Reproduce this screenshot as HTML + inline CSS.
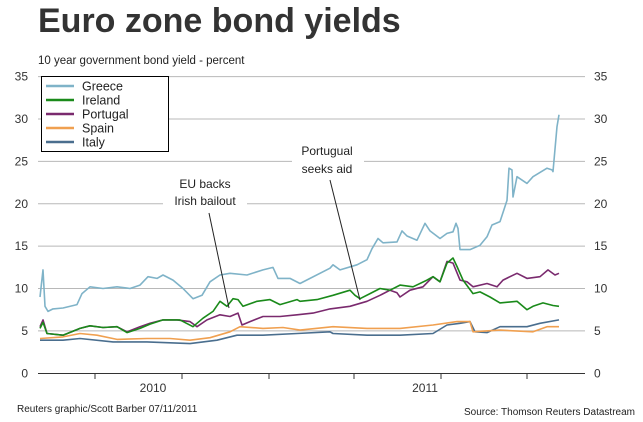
<!DOCTYPE html>
<html><head><meta charset="utf-8"><style>
body{margin:0;background:#fff;}
svg{display:block;font-family:"Liberation Sans",Arial,sans-serif;}
</style></head><body>
<svg id="chart" width="643" height="422" viewBox="0 0 643 422">
<text x="38" y="32" font-size="34" font-weight="bold" fill="#333">Euro zone bond yields</text>
<text x="38" y="64" font-size="11.5" fill="#222">10 year government bond yield - percent</text>
<g id="grid"></g>
<g id="series"></g>
<g>
<line x1="209" y1="213" x2="229" y2="308" stroke="#222" stroke-width="1"/>
<rect x="163" y="172" width="84" height="36" fill="#fff"/>
<text x="205" y="188" font-size="12" text-anchor="middle" fill="#222">EU backs</text>
<text x="205" y="205" font-size="12" text-anchor="middle" fill="#222">Irish bailout</text>
</g>
<g>
<line x1="330" y1="180" x2="360" y2="300" stroke="#222" stroke-width="1"/>
<rect x="292" y="142" width="72" height="36" fill="#fff"/>
<text x="327" y="155" font-size="12" text-anchor="middle" fill="#222">Portugual</text>
<text x="327" y="173" font-size="12" text-anchor="middle" fill="#222">seeks aid</text>
</g>
<g id="legend"></g>
<text x="17" y="412" font-size="10" fill="#222">Reuters graphic/Scott Barber 07/11/2011</text>
<text x="635" y="415" font-size="10" fill="#222" text-anchor="end">Source: Thomson Reuters Datastream</text>
</svg>
<script>
const yTicks=[0,5,10,15,20,25,30,35];
const xTickDays=[57,144,231,316,403,489];
const yearLabels=["2010","2011"];
const yearDays=[115,387];
const seriesNames=["Greece","Ireland","Portugal","Spain","Italy"];
const seriesColors=["#7fb3c8","#1a8a1a","#7a2a6e","#f0a050","#4a6e8e"];
const greece=[[2,9.0],[5,12.2],[7,7.9],[10,7.3],[15,7.6],[25,7.7],[39,8.1],[44,9.4],[52,10.2],[65,10.0],[79,10.2],[92,10.0],[102,10.4],[110,11.4],[119,11.2],[125,11.6],[135,11.0],[145,10.0],[155,8.8],[164,9.2],[172,10.8],[182,11.6],[192,11.8],[209,11.6],[225,12.2],[235,12.5],[240,11.2],[252,11.2],[262,10.6],[292,12.4],[295,12.8],[302,12.2],[319,12.8],[329,13.4],[334,14.7],[340,15.9],[345,15.4],[359,15.5],[364,16.8],[369,16.2],[379,15.7],[387,17.7],[392,16.8],[402,15.9],[409,16.5],[415,16.7],[418,17.7],[420,17.1],[422,14.6],[432,14.6],[442,15.1],[449,16.1],[454,17.5],[462,17.9],[469,20.4],[471,24.2],[474,24.0],[475,20.8],[479,23.2],[489,22.4],[495,23.2],[509,24.2],[514,24.0],[515,23.8],[519,29.1],[521,30.5]];
const ireland=[[2,5.3],[5,6.0],[9,4.7],[25,4.5],[42,5.3],[52,5.6],[65,5.4],[79,5.5],[89,4.8],[102,5.3],[112,5.8],[125,6.3],[142,6.3],[155,5.5],[165,6.5],[175,7.3],[182,8.5],[189,7.9],[195,8.8],[200,8.7],[205,7.9],[219,8.5],[232,8.7],[242,8.1],[259,8.7],[262,8.5],[279,8.7],[295,9.2],[312,9.8],[317,9.2],[322,8.8],[332,9.4],[342,10.0],[352,9.8],[362,10.4],[375,10.2],[389,11.0],[395,11.4],[402,10.8],[409,13.0],[415,13.6],[419,12.6],[425,11.0],[435,9.4],[442,9.6],[452,9.0],[462,8.3],[479,8.5],[489,7.5],[495,7.9],[505,8.3],[515,8.0],[521,7.9]];
const portugal=[[2,5.5],[5,6.3],[9,4.7],[25,4.5],[42,5.3],[52,5.6],[65,5.4],[79,5.5],[89,4.9],[102,5.5],[112,5.9],[125,6.3],[139,6.3],[152,6.1],[159,5.5],[169,6.3],[182,6.9],[192,6.7],[200,7.1],[204,5.7],[212,6.1],[225,6.7],[242,6.7],[259,6.9],[275,7.1],[292,7.6],[312,7.9],[329,8.5],[342,9.2],[352,9.8],[359,9.5],[362,9.0],[372,9.8],[385,10.2],[395,11.4],[402,10.8],[409,13.2],[415,13.0],[422,11.0],[429,10.8],[435,10.2],[449,10.6],[459,10.2],[465,11.0],[479,11.8],[489,11.2],[502,11.4],[510,12.2],[517,11.6],[521,11.8]];
const spain=[[2,4.1],[25,4.3],[42,4.7],[59,4.5],[79,4.0],[109,4.1],[132,4.1],[152,3.9],[172,4.2],[192,4.9],[202,5.5],[225,5.3],[245,5.4],[262,5.1],[295,5.5],[329,5.3],[362,5.3],[395,5.7],[419,6.1],[432,6.1],[435,4.9],[462,5.1],[495,4.9],[509,5.5],[521,5.5]];
const italy=[[2,3.9],[25,3.9],[42,4.1],[75,3.7],[109,3.7],[152,3.5],[179,3.9],[199,4.5],[225,4.5],[259,4.7],[292,4.9],[295,4.7],[329,4.5],[362,4.5],[395,4.7],[409,5.7],[422,5.9],[432,6.1],[437,4.9],[449,4.8],[462,5.5],[489,5.5],[502,5.9],[521,6.3]];
const allSeries=[greece,ireland,portugal,spain,italy];
const NS="http://www.w3.org/2000/svg";
function xS(d){return 38+d;}
function yS(v){return 373.3-v*8.476;}
function mk(tag,attrs,parent){const e=document.createElementNS(NS,tag);for(const k in attrs)e.setAttribute(k,attrs[k]);parent.appendChild(e);return e;}
const grid=document.getElementById('grid');
yTicks.forEach(v=>{
  if(v>0){const l=mk('line',{x1:38,x2:585,y1:yS(v),y2:yS(v),stroke:'#b8b8b8','stroke-width':1},grid);
  
  }
  const t1=mk('text',{x:28,y:yS(v)+4,'font-size':12,'text-anchor':'end',fill:'#333'},grid);t1.textContent=v;
  
  
  const t2=mk('text',{x:594,y:yS(v)+4,'font-size':12,fill:'#333'},grid);t2.textContent=v;
  
  
});
const ax=mk('line',{x1:38,x2:585,y1:373.5,y2:373.5,stroke:'#333','stroke-width':1},grid);


xTickDays.forEach(d=>{const l=mk('line',{x1:xS(d),x2:xS(d),y1:374,y2:379,stroke:'#333'},grid);
  
  });
yearLabels.forEach((y,i)=>{const t=mk('text',{x:xS(yearDays[i]),y:392,'font-size':12,'text-anchor':'middle',fill:'#333'},grid);t.textContent=y;
  
  });
const sg=document.getElementById('series');
[4,3,0,2,1].forEach(i=>{
  const pts=allSeries[i].slice().sort((a,b)=>a[0]-b[0]).map(p=>xS(p[0]).toFixed(1)+','+yS(p[1]).toFixed(1)).join(' ');
  const pl=mk('polyline',{points:pts,fill:'none',stroke:seriesColors[i],'stroke-width':1.6,'stroke-linejoin':'round'},sg);
  
  
});
const lg=document.getElementById('legend');
mk('rect',{x:41.5,y:76.5,width:127,height:75,fill:'#fff',stroke:'#000','stroke-width':1},lg);
seriesNames.forEach((n,i)=>{
  const y=86+i*14;
  const l=mk('line',{x1:46,x2:74,y1:y,y2:y,stroke:seriesColors[i],'stroke-width':2.5},lg);
  
  
  const t=mk('text',{x:82,y:y+4.5,'font-size':12.5,fill:'#222'},lg);t.textContent=n;
  
  
});
</script>
</body></html>
